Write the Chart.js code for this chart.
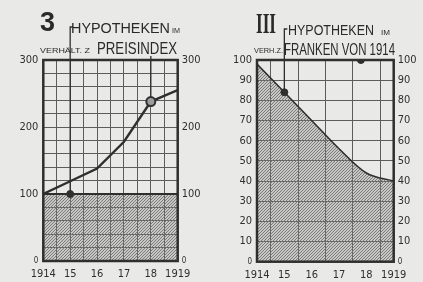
<!DOCTYPE html>
<html>
<head>
<meta charset="utf-8">
<script src="https://cdn.jsdelivr.net/npm/chart.js@4.4.1/dist/chart.umd.min.js"></script>
<style>
    html, body { margin: 0; padding: 0; background: #e9e9e7; }
    #wrap { position: relative; width: 423px; height: 282px; overflow: hidden; }
    canvas { position: absolute; top: 0; }
    #left { left: 0; }
    #right { left: 211px; }
    .t { position: absolute; white-space: nowrap; line-height: 1; color: #2a2a2a; transform-origin: 0 0; }
</style>
</head>
<body>
<div id="wrap">
    <canvas id="left" width="211" height="282"></canvas>
    <canvas id="right" width="212" height="282"></canvas>
</div>
<script>
// data
const years = [1914, 1915, 1916, 1917, 1918, 1919];
const yearLabels = ['1914', '15', '16', '17', '18', '1919'];

// chart 3: mortgages vs. price index (1914 = 100)
const priceIndex = [100, 119, 138, 178, 238, 255];
const mortgagesIndex = [100, 100, 100, 100, 100, 100];
const markerYearsLeft = [1915, 1918];
const markerValuesLeft = [100, 238];

// chart III: mortgages in francs of 1914
const mortgagesFrancs = [98, 84, 70, 56, 44, 40];
const markerYearsRight = [1915, 1917.8];
const markerValuesRight = [84, 100];

const INK = '#2f2f2f';
const GRID = '#5c5c5c';
const FONT = "'Liberation Sans Narrow', 'DejaVu Sans Condensed', sans-serif";

function makeHatch() {
    const p = document.createElement('canvas');
    p.width = 3; p.height = 3;
    const g = p.getContext('2d');
    g.strokeStyle = '#777777';
    g.lineWidth = 1.1;
    g.beginPath();
    g.moveTo(0, 3); g.lineTo(3, 0);
    g.moveTo(-1, 1); g.lineTo(1, -1);
    g.moveTo(2, 4); g.lineTo(4, 2);
    g.stroke();
    return g.createPattern(p, 'repeat');
}
const hatch = makeHatch();

function points(xs, ys) {
    return xs.map((x, i) => ({ x: x, y: ys[i] }));
}

// frame round the plot and the leader lines up to the titles
const framePlugin = {
    id: 'frame',
    beforeDatasetsDraw(chart, args, opts) {
        const { ctx, scales } = chart;
        ctx.save();
        ctx.strokeStyle = INK;
        ctx.lineWidth = 1.3;
        (opts.leaders || []).forEach(l => {
            const px = scales.x.getPixelForValue(l.x);
            const py = scales.y.getPixelForValue(l.y);
            ctx.beginPath();
            ctx.moveTo(px, py);
            ctx.lineTo(px, l.top);
            if (l.tick) ctx.lineTo(px + l.tick, l.top);
            ctx.stroke();
        });
        ctx.restore();
    },
    afterDatasetsDraw(chart) {
        const { ctx, chartArea: a } = chart;
        ctx.save();
        ctx.strokeStyle = INK;
        ctx.lineWidth = 2.5;
        ctx.strokeRect(a.left, a.top, a.right - a.left, a.bottom - a.top);
        ctx.restore();
    }
};

function tickFont(c) {
    if (c.tick && c.tick.value === 0) return { family: FONT, size: 8 };
    return { family: FONT, size: 11 };
}

function yearLabel(v) {
    const i = years.indexOf(v);
    return i < 0 ? '' : yearLabels[i];
}

function makeScales(cfg) {
    const yTicks = {
        stepSize: cfg.step,
        autoSkip: false,
        color: INK,
        font: tickFont,
        callback: v => (v % cfg.labelEvery === 0 ? String(v) : '')
    };
    return {
        x: {
            type: 'linear', min: 1914, max: 1919,
            afterFit: s => { s.height = 282 - cfg.bottom; },
            border: { display: false },
            grid: { drawTicks: false, lineWidth: 1, color: cfg.xGrid },
            ticks: { stepSize: 0.5, autoSkip: false, maxRotation: 0, padding: 7, color: INK, font: { family: FONT, size: 11 }, callback: yearLabel }
        },
        y: {
            min: 0, max: cfg.max,
            afterFit: s => { s.width = cfg.left; },
            border: { display: false },
            grid: { drawTicks: false, lineWidth: 1, color: GRID },
            ticks: Object.assign({ padding: 5 }, yTicks)
        },
        y2: {
            position: 'right', min: 0, max: cfg.max,
            afterFit: s => { s.width = cfg.width - cfg.right; },
            border: { display: false },
            grid: { display: false, drawTicks: false },
            ticks: Object.assign({ padding: 4 }, yTicks)
        }
    };
}

new Chart(document.getElementById('left'), {
    type: 'line',
    data: {
        datasets: [
            {
                data: points(markerYearsLeft, markerValuesLeft),
                showLine: false,
                pointRadius: [3.5, 4.5],
                pointBackgroundColor: [INK, '#9c9c9c'],
                pointBorderColor: INK,
                pointBorderWidth: [1, 2]
            },
            {
                data: points(years, priceIndex),
                borderColor: INK,
                borderWidth: 2.4,
                pointRadius: 0,
                tension: 0,
                fill: false
            },
            {
                data: points(years, mortgagesIndex),
                borderColor: INK,
                borderWidth: 2,
                pointRadius: 0,
                fill: 'origin',
                backgroundColor: hatch
            }
        ]
    },
    options: {
        responsive: false,
        animation: false,
        devicePixelRatio: 1,
        layout: { padding: { top: 60, left: 0, right: 0, bottom: 0 } },
        plugins: {
            legend: { display: false },
            tooltip: { enabled: false },
            frame: { leaders: [ { x: 1915, y: 100, top: 27, tick: 3 }, { x: 1918, y: 238, top: 56 } ] }
        },
        scales: makeScales({ max: 300, step: 20, labelEvery: 100, left: 43.3, right: 177.7, width: 211, bottom: 261, xGrid: GRID })
    },
    plugins: [framePlugin]
});

new Chart(document.getElementById('right'), {
    type: 'line',
    data: {
        datasets: [
            {
                data: points(markerYearsRight, markerValuesRight),
                showLine: false,
                pointRadius: 3.5,
                pointBackgroundColor: INK,
                pointBorderColor: INK,
                pointBorderWidth: 1
            },
            {
                data: points(years, mortgagesFrancs),
                borderColor: INK,
                borderWidth: 1.6,
                pointRadius: 0,
                cubicInterpolationMode: 'monotone',
                fill: 'origin',
                backgroundColor: hatch
            }
        ]
    },
    options: {
        responsive: false,
        animation: false,
        devicePixelRatio: 1,
        layout: { padding: { top: 60, left: 0, right: 0, bottom: 0 } },
        plugins: {
            legend: { display: false },
            tooltip: { enabled: false },
            frame: { leaders: [ { x: 1915, y: 84, top: 29, tick: 3 } ] }
        },
        scales: makeScales({
            max: 100, step: 10, labelEvery: 10, left: 46, right: 182.7, width: 212, bottom: 261.7,
            xGrid: c => (c.tick && c.tick.value % 1 !== 0 ? GRID : 'rgba(0,0,0,0)')
        })
    },
    plugins: [framePlugin]
});

// titles: text, left, baseline, font size, target width, family, weight
const titles = [
    ['3', 40, 32, 27, 15, 'Liberation Sans', 'bold'],
    ['HYPOTHEKEN', 71, 33, 15, 99, 'Liberation Sans', 'normal'],
    ['IM', 172, 33, 7, 8, 'Liberation Sans', 'normal'],
    ['VERHÄLT. Z', 40, 53, 7.5, 50, 'Liberation Sans', 'normal'],
    ['PREISINDEX', 97, 54.5, 16.5, 80, 'Liberation Sans', 'normal'],
    ['III', 256, 33, 30, 20, 'Liberation Serif', 'bold'],
    ['HYPOTHEKEN', 288, 35, 15, 86, 'Liberation Sans', 'normal'],
    ['IM', 381, 34.5, 7, 9, 'Liberation Sans', 'normal'],
    ['VERH.Z.', 254, 53, 7.5, 29, 'Liberation Sans', 'normal'],
    ['FRANKEN VON 1914', 284, 55, 16.5, 111, 'Liberation Sans', 'normal']
];

const measure = document.createElement('canvas').getContext('2d');
const wrap = document.getElementById('wrap');
titles.forEach(([text, x, base, size, width, family, weight]) => {
    const el = document.createElement('div');
    el.className = 't';
    el.textContent = text;
    const font = `${weight} ${size}px '${family}'`;
    measure.font = font;
    const w = measure.measureText(text).width;
    el.style.font = font;
    el.style.lineHeight = '1';
    el.style.left = x + 'px';
    el.style.top = (base - 0.85 * size) + 'px';
    el.style.transform = `scaleX(${width / w})`;
    wrap.appendChild(el);
});
</script>
</body>
</html>
